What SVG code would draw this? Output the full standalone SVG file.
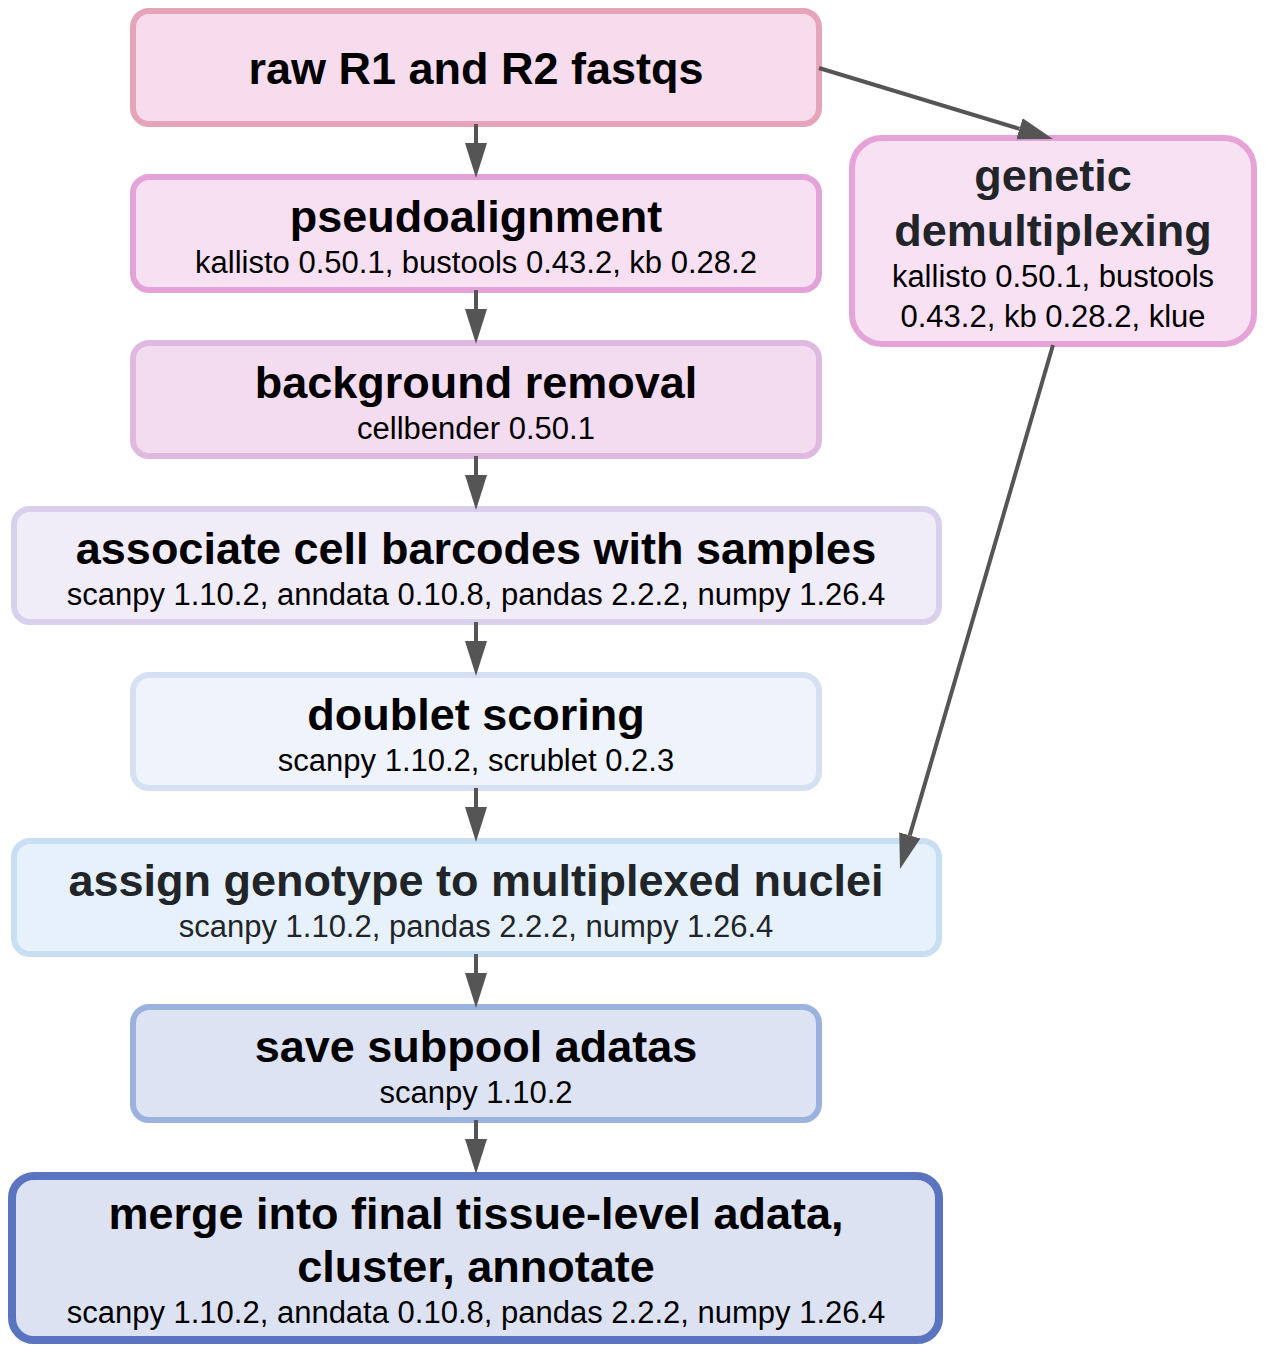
<svg xmlns="http://www.w3.org/2000/svg" width="1266" height="1352" viewBox="0 0 1266 1352">
<style>
  .box { stroke-width: 6; }
  .t { font-family: "Liberation Sans", Arial, sans-serif; font-weight: bold; font-size: 45px; text-anchor: middle; fill: #000; }
  .s { font-family: "Liberation Sans", Arial, sans-serif; font-size: 31px; text-anchor: middle; fill: #000; }
  .dk { fill: #212529; }
  .edge { stroke: #555555; stroke-width: 4; fill: none; marker-end: url(#ah); }
</style>
<defs>
  <marker id="ah" markerUnits="userSpaceOnUse" markerWidth="36" markerHeight="24" refX="0" refY="11" orient="auto" viewBox="0 0 36 22">
    <path d="M0,0 L35,11 L0,22 Z" fill="#555555"/>
  </marker>
</defs>
<rect width="1266" height="1352" fill="#ffffff"/>

<g id="raw">
  <rect class="box" x="133" y="11" width="686" height="113" rx="16" fill="#f6dcec" stroke="#e6a4b9"/>
  <text class="t" x="476" y="84">raw R1 and R2 fastqs</text>
</g>

<g id="pseudoalignment">
  <rect class="box" x="133" y="177" width="686" height="113" rx="16" fill="#f7e0f2" stroke="#e4a3d8"/>
  <text class="t" x="476" y="232">pseudoalignment</text>
  <text class="s" x="476" y="273">kallisto 0.50.1, bustools 0.43.2, kb 0.28.2</text>
</g>

<g id="background">
  <rect class="box" x="133" y="343" width="686" height="113" rx="16" fill="#f4dcf0" stroke="#e0b9e0"/>
  <text class="t" x="476" y="398">background removal</text>
  <text class="s" x="476" y="439">cellbender 0.50.1</text>
</g>

<g id="associate">
  <rect class="box" x="14" y="509" width="925" height="113" rx="16" fill="#f0ecf8" stroke="#d8d0ec"/>
  <text class="t" x="476" y="564">associate cell barcodes with samples</text>
  <text class="s" x="476" y="605">scanpy 1.10.2, anndata 0.10.8, pandas 2.2.2, numpy 1.26.4</text>
</g>

<g id="doublet">
  <rect class="box" x="133" y="675" width="686" height="113" rx="16" fill="#eff3fb" stroke="#d5e0f2"/>
  <text class="t" x="476" y="730">doublet scoring</text>
  <text class="s" x="476" y="771">scanpy 1.10.2, scrublet 0.2.3</text>
</g>

<g id="assign">
  <rect class="box" x="14" y="841" width="925" height="113" rx="16" fill="#e7f1fb" stroke="#c8dff3"/>
  <text class="t dk" x="476" y="896">assign genotype to multiplexed nuclei</text>
  <text class="s dk" x="476" y="937">scanpy 1.10.2, pandas 2.2.2, numpy 1.26.4</text>
</g>

<g id="save">
  <rect class="box" x="133" y="1007" width="686" height="113" rx="16" fill="#dde3f3" stroke="#9bb2de"/>
  <text class="t" x="476" y="1062">save subpool adatas</text>
  <text class="s" x="476" y="1103">scanpy 1.10.2</text>
</g>

<g id="merge">
  <rect x="12" y="1176" width="927" height="164" rx="22" fill="#dde2f2" stroke="#5b74c0" stroke-width="8"/>
  <text class="t" x="476" y="1229">merge into final tissue-level adata,</text>
  <text class="t" x="476" y="1282">cluster, annotate</text>
  <text class="s" x="476" y="1323">scanpy 1.10.2, anndata 0.10.8, pandas 2.2.2, numpy 1.26.4</text>
</g>

<g id="genetic">
  <rect class="box" x="852" y="138" width="402" height="206" rx="30" fill="#f8e1f3" stroke="#e6a3d8"/>
  <text class="t dk" x="1053" y="191">genetic</text>
  <text class="t dk" x="1053" y="246">demultiplexing</text>
  <text class="s" x="1053" y="287">kallisto 0.50.1, bustools</text>
  <text class="s" x="1053" y="327">0.43.2, kb 0.28.2, klue</text>
</g>

<g id="edges">
  <path class="edge" d="M476,124 L476,143"/>
  <path class="edge" d="M476,290 L476,309"/>
  <path class="edge" d="M476,456 L476,475"/>
  <path class="edge" d="M476,622 L476,641"/>
  <path class="edge" d="M476,788 L476,807"/>
  <path class="edge" d="M476,954 L476,973"/>
  <path class="edge" d="M476,1120 L476,1139"/>
  <path class="edge" d="M819,68 L1019.5,128.8"/>
  <path class="edge" d="M1053,345 L909.8,835.4"/>
</g>
</svg>
